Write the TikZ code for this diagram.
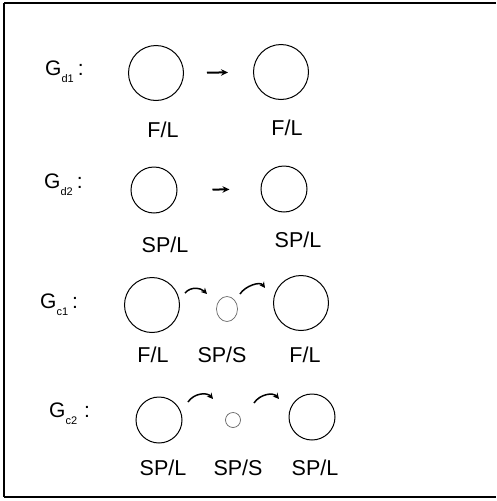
\documentclass[tikz,border=0pt]{standalone}
\usepackage{fontspec}
\setmainfont{Liberation Sans}
\usetikzlibrary{arrows.meta,shapes.geometric}
\newcommand{\gsub}[1]{\raisebox{-7pt}{\fontsize{11}{11}\selectfont #1}}
\begin{document}
\begin{tikzpicture}[x=1pt,y=-1pt,
  big/.style={draw,circle,inner sep=0pt,line width=1pt},
  small/.style={draw=black!60,ellipse,inner sep=0pt,line width=0.7pt},
  lbl/.style={anchor=base,font=\fontsize{21.5}{21.5}\selectfont,inner sep=0pt},
  glbl/.style={anchor=base west,font=\fontsize{21}{21}\selectfont,inner sep=0pt},
  darr/.style={line width=2pt,-{Stealth[length=7pt,width=6.5pt]}},
  carr/.style={line width=1.5pt,-{Stealth[length=6pt,width=6pt]}},
  frame/.style={line width=1.3pt}]
\useasboundingbox (0,0) rectangle (496,501);
\coordinate (ftl) at (4,3);
\coordinate (fbl) at (4,497);
\coordinate (ftr) at (496,3);
\coordinate (fbr) at (496,497);
\draw[frame] (ftl) -- (ftr);
\draw[frame] (ftl) -- (fbl);
\draw[frame] (fbl) -- (fbr);

% G_d1
\node[glbl] (g1) at (45,75) {G\gsub{d1}\hspace{4pt}:};
\node[big,minimum size=55pt] (a1) at (156,73) {};
\node[big,minimum size=55pt] (a2) at (281,72) {};
\draw[darr,shorten <=23pt,shorten >=25pt] (a1) -- (a2);
\node[lbl] (la1) at (163,137) {F/L};
\node[lbl] (la2) at (287,135) {F/L};

% G_d2
\node[glbl] (g2) at (44,188) {G\gsub{d2}\hspace{4pt}:};
\node[big,minimum size=46pt] (b1) at (154,190) {};
\node[big,minimum size=46pt] (b2) at (284,189) {};
\draw[darr,shorten <=35pt,shorten >=31pt] (b1) -- (b2);
\node[lbl] (lb1) at (165,252) {SP/L};
\node[lbl] (lb2) at (298,247) {SP/L};

% G_c1
\node[glbl] (g3) at (40,308) {G\gsub{c1}\hspace{4pt}:};
\node[big,minimum size=55pt] (c1) at (152,305) {};
\node[small,minimum width=21pt,minimum height=25pt] (c2) at (227,309) {};
\node[big,minimum size=55pt] (c3) at (301,303) {};
\coordinate (c1s) at (185,293);
\coordinate (c1e) at (207,294);
\coordinate (c2s) at (240,294);
\coordinate (c2e) at (265,288);
\draw[carr] (c1s) .. controls +(6,-7) and +(-6,-6) .. (c1e);
\draw[carr] (c2s) .. controls +(5,-8) and +(-5,-7) .. (c2e);
\node[lbl] (lc1) at (153,362) {F/L};
\node[lbl] (lc2) at (222,362) {SP/S};
\node[lbl] (lc3) at (305,362) {F/L};

% G_c2
\node[glbl] (g4) at (49,417) {G\gsub{c2}\hspace{7pt}:};
\node[big,minimum size=46pt] (d1) at (159,420) {};
\node[small,minimum width=15pt,minimum height=15pt] (d2) at (233,420) {};
\node[big,minimum size=46pt] (d3) at (312,417) {};
\coordinate (d1s) at (188,402);
\coordinate (d1e) at (213,399);
\coordinate (d2s) at (254,403);
\coordinate (d2e) at (279,399);
\draw[carr] (d1s) .. controls +(6,-9) and +(-6,-7) .. (d1e);
\draw[carr] (d2s) .. controls +(6,-9) and +(-6,-7) .. (d2e);
\node[lbl] (ld1) at (163,475) {SP/L};
\node[lbl] (ld2) at (238,475) {SP/S};
\node[lbl] (ld3) at (315,475) {SP/L};
\end{tikzpicture}
\end{document}
